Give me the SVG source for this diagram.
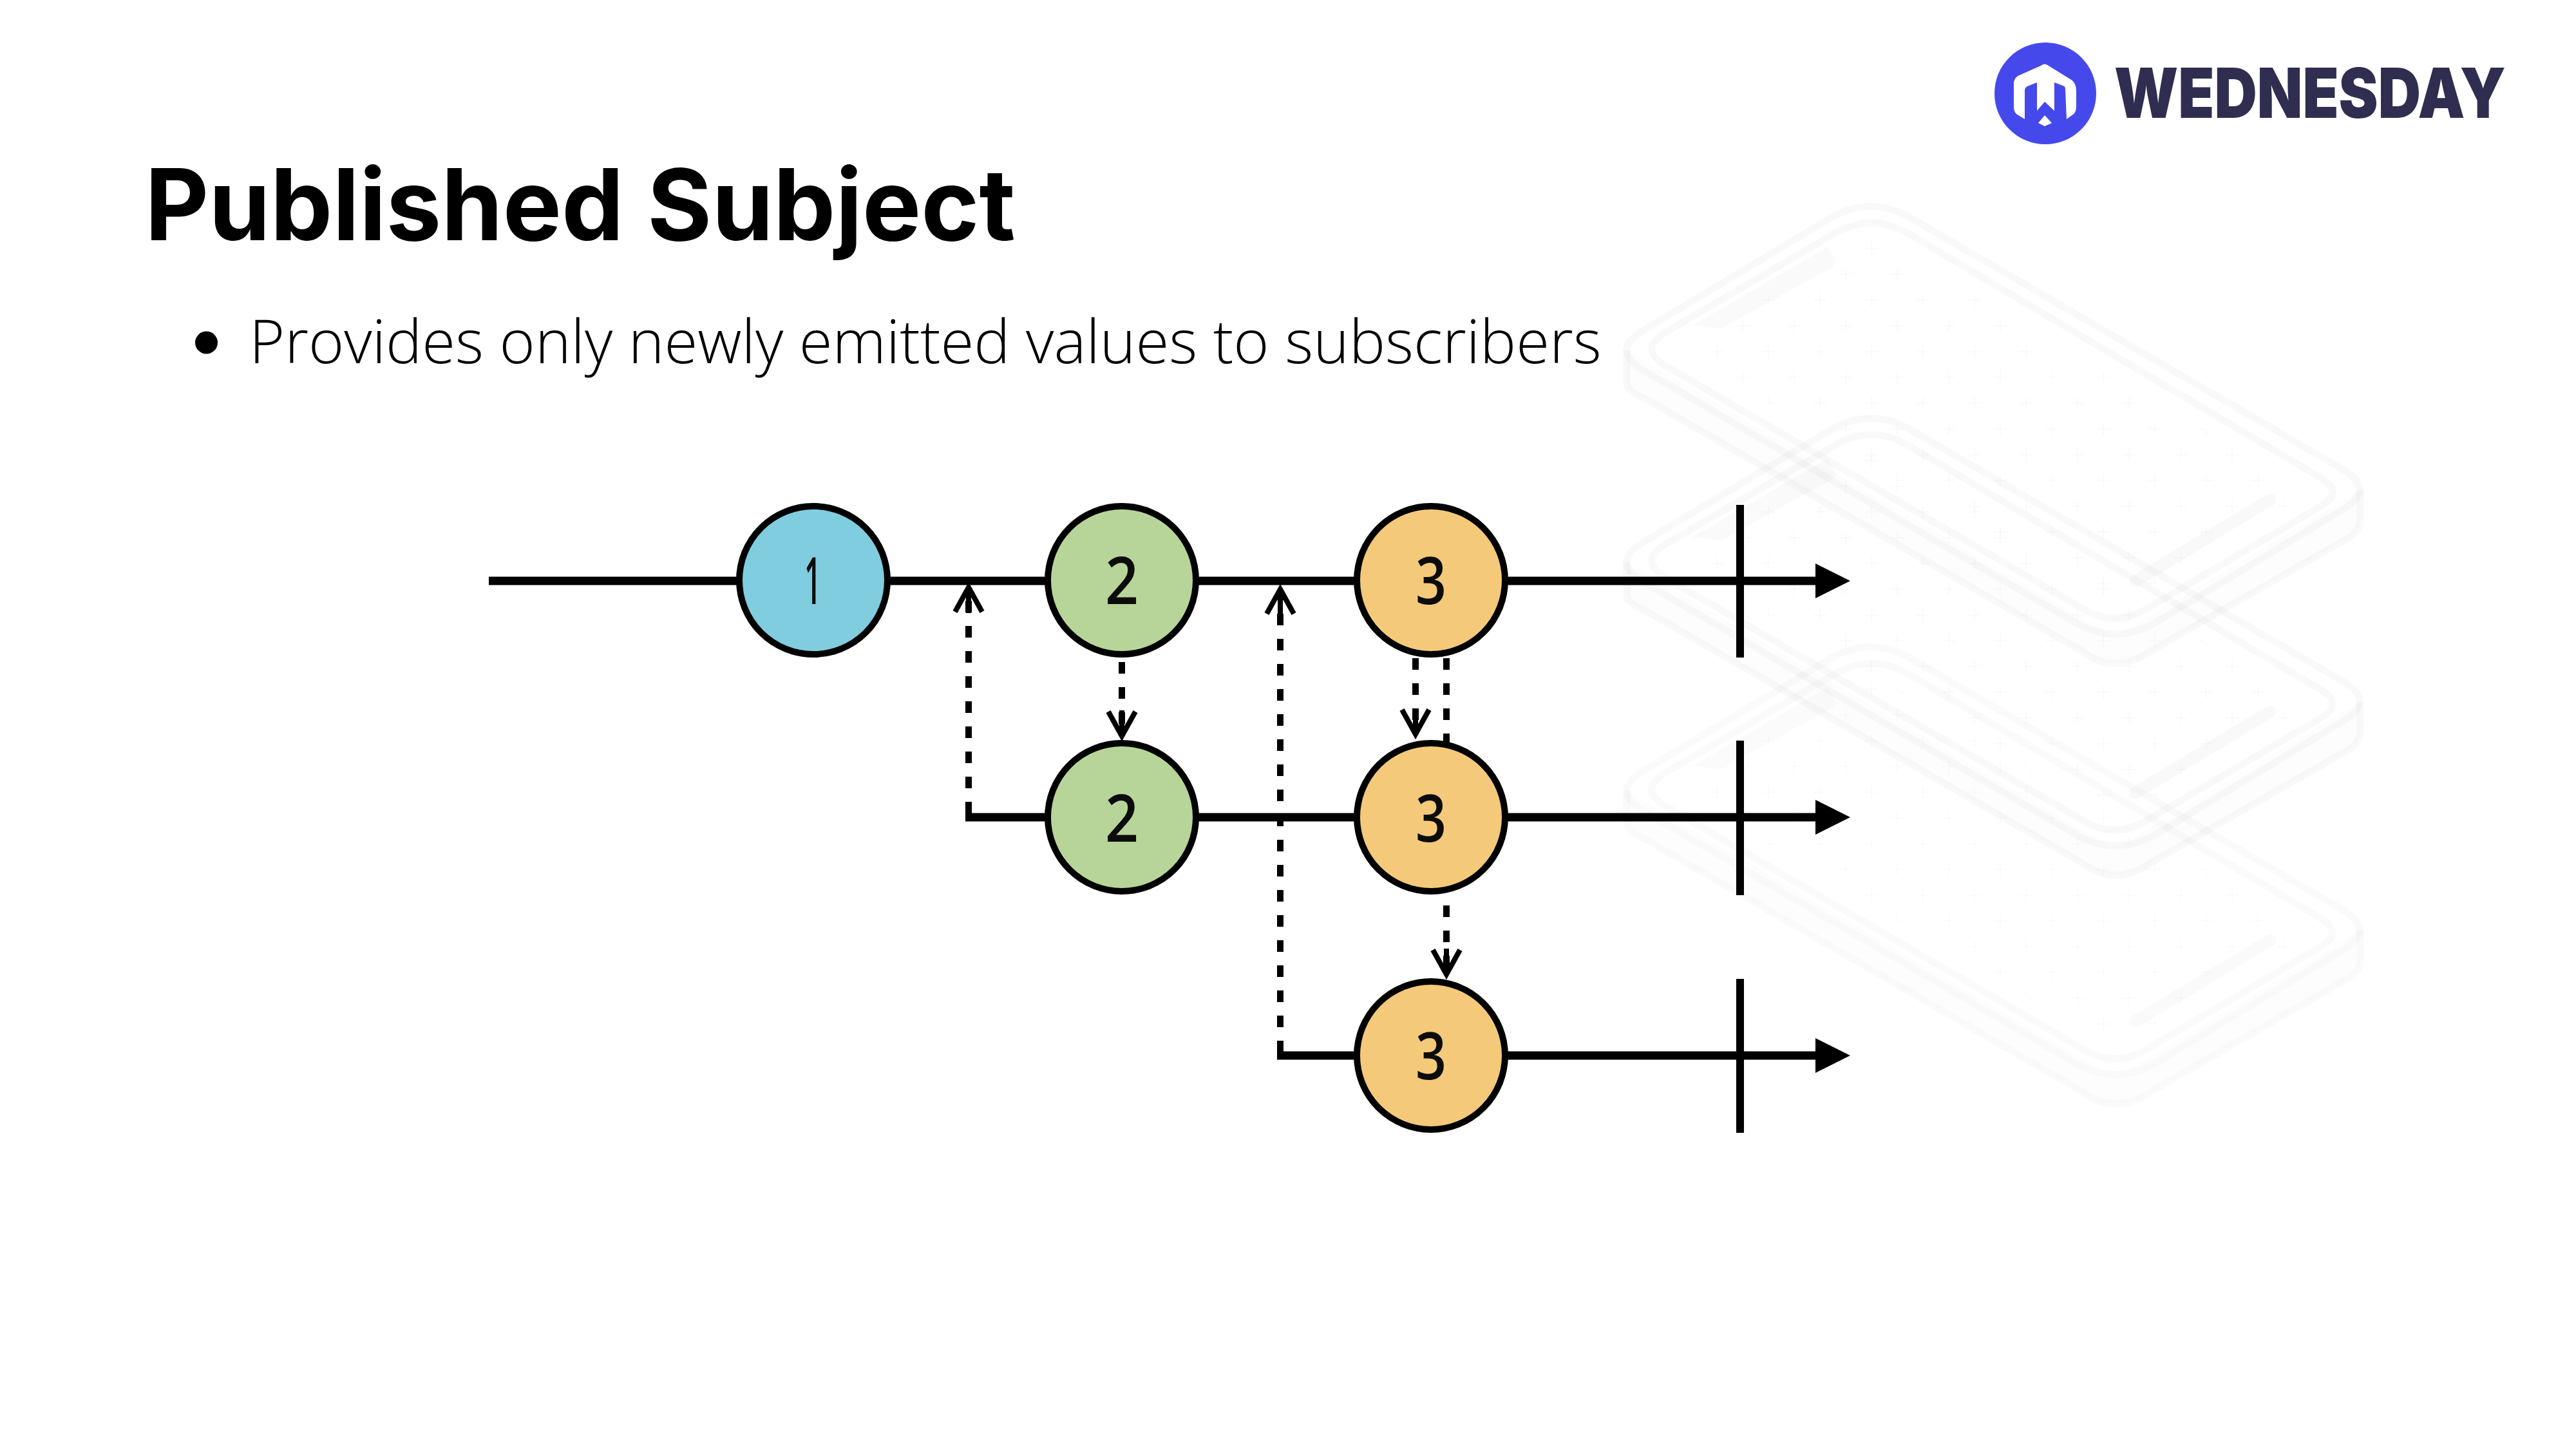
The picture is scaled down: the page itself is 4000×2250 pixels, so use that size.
<svg xmlns="http://www.w3.org/2000/svg" width="4000" height="2250" viewBox="0 0 4000 2250">
<style>
.edge{fill:none;stroke:#000;stroke-opacity:.024;stroke-width:11}
.axis{stroke:#000;stroke-width:13;fill:none}
.tick{stroke:#000;stroke-width:12;fill:none}
.dash{stroke:#000;stroke-width:10;fill:none;stroke-dasharray:18 21}
.node{stroke:#000;stroke-width:10}
.digit{font-family:"Open Sans","Liberation Sans",sans-serif;font-size:102px;font-weight:600;text-anchor:middle;fill:#0c0c0c}
</style>
<defs>
<pattern id="plus" width="80" height="80" patternUnits="userSpaceOnUse" x="2904" y="382">
<path d="M-10 0H10M0 -10V10M70 0H90M80 -10V10M-10 80H10M0 70V90M70 80H90M80 70V90M30 40H50M40 30V50" stroke="#000" stroke-opacity=".025" stroke-width="1.6" fill="none"/>
</pattern>
<marker id="open" markerUnits="userSpaceOnUse" markerWidth="60" markerHeight="60" viewBox="-50 -30 60 60" refX="0" refY="0" orient="auto" overflow="visible">
<path d="M-38 -21L0 0L-38 21M-40 0H0" fill="none" stroke="#000" stroke-width="8"/>
</marker>
<marker id="solid" markerUnits="userSpaceOnUse" markerWidth="60" markerHeight="60" viewBox="0 -30 60 60" refX="0" refY="0" orient="auto" overflow="visible">
<path d="M0 -27L54 0L0 27Z" fill="#000"/>
</marker>
<g id="phone">
<path d="M2524 540V590Q2524 604 2551 614L3231 1007Q3282 1045 3338 1007L3650 828Q3663 816 3663 803V757L3282 985Z" fill="#800080" fill-opacity=".006"/>
<path class="edge" d="M2524 590Q2524 604 2551 614L3231 1007Q3282 1045 3338 1007L3650 828Q3663 816 3663 803"/>
<path class="edge" d="M2524 540V590M3663 757V803"/>
<path class="edge" d="M2550 509L2838 336Q2903 297 2968 336L3636 725Q3688 756 3636 787L3348 961Q3283 1000 3218 961L2550 571Q2498 540 2550 509Z"/>
<path class="edge" d="M2586 511L2846 359Q2904 325 2962 359L3600 737Q3640 760 3600 783L3330 942Q3282 970 3234 942L2586 565Q2540 538 2586 511Z"/>
<path d="M2600 538L2850 392L2904 360L3590 760L3282 940Z" fill="url(#plus)"/>
<path d="M2836 379L2846 397Q2850 404 2842 412L2685 498Q2675 508 2662 506L2626 501Z" fill="#000" fill-opacity=".02"/>
<path d="M3523 772L3314 898" fill="none" stroke="#000" stroke-opacity=".025" stroke-width="19" stroke-linecap="round"/>
</g>
</defs>
<rect width="4000" height="2250" fill="#fff"/>
<g id="background-phones" transform="translate(2 4)">
<use href="#phone"/>
<use href="#phone" y="329"/>
<use href="#phone" y="684" opacity=".75"/>
</g>
<g id="logo">
<circle cx="3176" cy="145" r="79" fill="#4549ec"/>
<path d="M3169 102Q3175 97 3181 102L3218 125Q3224 131 3224 141V166Q3224 173 3220 177L3209 185L3207 138Q3207 134 3203 133L3190 128V172L3175 158L3163 172V128L3148 134Q3144 136 3144 141V185L3131 177Q3127 173 3127 166V129Q3127 123 3133 118ZM3175 179L3186 191L3175 196L3165 191Z" fill="#fff"/>
<text x="3283" y="183" font-family="Inter,'Liberation Sans',sans-serif" font-size="107" font-weight="900" fill="#2f2e50" textLength="608" lengthAdjust="spacingAndGlyphs">WEDNESDAY</text>
</g>
<text id="title" x="225" y="373" font-family="Inter,'Liberation Sans',sans-serif" font-size="153.300" font-weight="700" fill="#000">Published Subject</text>
<g id="bullet">
<circle cx="320.500" cy="532" r="17.500" fill="#000"/>
<text x="387" y="564" font-family="'Open Sans','Liberation Sans',sans-serif" font-size="94.400" font-weight="300" fill="#000">Provides only newly emitted values to subscribers</text>
</g>
<g id="connectors">
<path class="axis" d="M759 902H2819" marker-end="url(#solid)"/>
<path class="axis" d="M1499 1269H2819" marker-end="url(#solid)"/>
<path class="axis" d="M1983 1639H2819" marker-end="url(#solid)"/>
<path class="tick" d="M2702 784V1021"/>
<path class="tick" d="M2702 1150V1390"/>
<path class="tick" d="M2702 1520V1759"/>
<path class="dash" d="M1504 1263V912" marker-end="url(#open)"/>
<path class="dash" d="M1988 1634V915" marker-end="url(#open)"/>
<path class="dash" d="M1742 1028V1143" marker-end="url(#open)"/>
<path class="dash" d="M2198 1022V1140" marker-end="url(#open)"/>
<path class="dash" d="M2246 1022V1158"/>
<path class="dash" d="M2246 1406V1513" marker-end="url(#open)"/>
</g>
<g id="node-1"><circle class="node" cx="1263" cy="901" r="115" fill="#80cde0"/><text class="digit" x="1262" y="938" textLength="26" lengthAdjust="spacingAndGlyphs">1</text></g>
<g id="node-2a"><circle class="node" cx="1742" cy="901" r="115" fill="#b7d598"/><text class="digit" x="1742" y="938" textLength="52" lengthAdjust="spacingAndGlyphs">2</text></g>
<g id="node-3a"><circle class="node" cx="2222" cy="901" r="115" fill="#f4c97a"/><text class="digit" x="2222" y="938" textLength="48" lengthAdjust="spacingAndGlyphs">3</text></g>
<g id="node-2b"><circle class="node" cx="1742" cy="1269" r="115" fill="#b7d598"/><text class="digit" x="1742" y="1307" textLength="52" lengthAdjust="spacingAndGlyphs">2</text></g>
<g id="node-3b"><circle class="node" cx="2222" cy="1269" r="115" fill="#f4c97a"/><text class="digit" x="2222" y="1307" textLength="48" lengthAdjust="spacingAndGlyphs">3</text></g>
<g id="node-3c"><circle class="node" cx="2222" cy="1639" r="115" fill="#f4c97a"/><text class="digit" x="2222" y="1676" textLength="48" lengthAdjust="spacingAndGlyphs">3</text></g>
</svg>
